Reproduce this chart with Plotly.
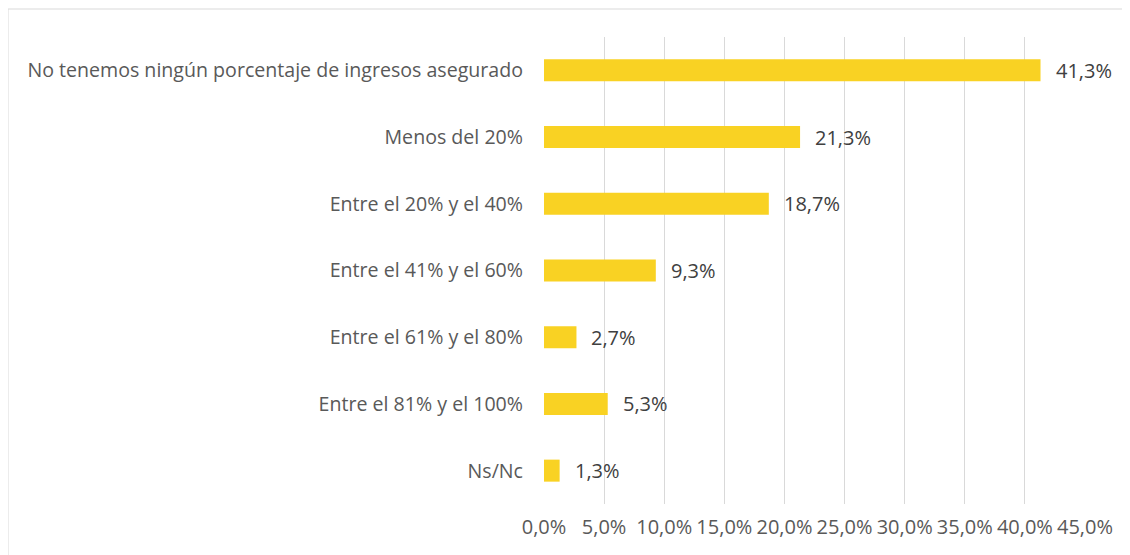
import plotly.graph_objects as go

categories = [
    "No tenemos ningún porcentaje de ingresos asegurado",
    "Menos del 20%",
    "Entre el 20% y el 40%",
    "Entre el 41% y el 60%",
    "Entre el 61% y el 80%",
    "Entre el 81% y el 100%",
    "Ns/Nc",
]
values = [41.3, 21.3, 18.7, 9.3, 2.7, 5.3, 1.3]
tick_vals = [0, 5, 10, 15, 20, 25, 30, 35, 40, 45]
tick_text = [f"{v:.1f}%".replace(".", ",") for v in tick_vals]
labels = [f"{v:.1f}%".replace(".", ",") for v in values]

# page has an 8px body margin; figure sized to fit the window
W, H = 1122, 547
ml, mr, mt, mb = 536, 45, 29, 51
pw, ph = W - ml - mr, H - mt - mb

font = "Open Sans"
fig = go.Figure(go.Bar(
    x=values, y=categories, orientation="h",
    marker=dict(color="#F9D223", line=dict(width=0)),
    hoverinfo="x+y",
))

for v, c, t in zip(values, categories, labels):
    fig.add_annotation(x=v, y=c, text=t, showarrow=False, xanchor="left",
                       xshift=13, font=dict(family=font, size=20, color="#404040"))

def px_x(p):
    return (p - ml) / pw

def px_y(p):
    return (H - mb - p) / ph

fig.update_layout(
    width=W, height=H,
    margin=dict(l=ml, r=mr, t=mt, b=mb),
    paper_bgcolor="white", plot_bgcolor="white",
    bargap=0.67,
    showlegend=False,
    font=dict(family=font, size=20, color="#595959"),
    xaxis=dict(range=[0, 45], tickvals=tick_vals, ticktext=tick_text,
               showgrid=True, gridcolor="#D9D9D9", gridwidth=1,
               zeroline=False, showline=False, ticks="",
               ticklabelstandoff=9,
               tickfont=dict(family=font, size=20, color="#595959")),
    yaxis=dict(autorange="reversed", showgrid=False, zeroline=False,
               showline=False, ticks="", ticklabelstandoff=20,
               tickfont=dict(family=font, size=19.6, color="#595959")),
    shapes=[dict(type="rect", xref="paper", yref="paper",
                 x0=px_x(0), x1=px_x(1140), y0=px_y(565), y1=px_y(1),
                 line=dict(color="#D9D9D9", width=1), layer="below")],
)
fig.write_html("out.html")
